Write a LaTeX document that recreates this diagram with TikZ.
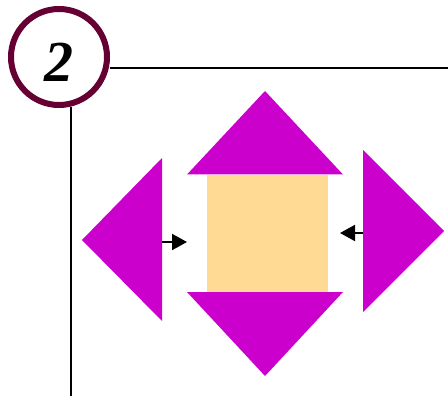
\documentclass[tikz,border=0pt]{standalone}
\usepackage{fontspec}
\newfontfamily\numfont{Liberation Serif}
\usetikzlibrary{arrows.meta}
\definecolor{mag}{HTML}{CC00CC}
\definecolor{sq}{HTML}{FFDA94}
\definecolor{maroon}{HTML}{660033}
\begin{document}
\begin{tikzpicture}[x=1pt,y=-1pt,
  tri/.style={fill=mag},
  frame/.style={line width=2.4pt,black},
  push/.style={line width=2pt,-{Triangle[length=15pt,width=16pt]}}]
\useasboundingbox (0,0) rectangle (448,396);
% frame lines
\draw[frame] (110,68) -- (448,68);
\draw[frame] (71,107) -- (71,396);
% badge
\node[circle,draw=maroon,line width=6pt,fill=white,minimum size=96pt,inner sep=0pt] (badge) at (59,57) {};
\node at ([yshift=-5pt]badge.center) {\numfont\fontsize{58}{58}\selectfont\bfseries\itshape 2};
% square
\fill[sq] (207,175) rectangle (328,292);
\coordinate (sqL) at (187,242);
\coordinate (sqR) at (340,233);
% triangles
\fill[tri] (187,174.5) -- (265,91) -- (343,174.5) -- cycle;
\fill[tri] (187,292) -- (265,376) -- (343,292) -- cycle;
\fill[tri] (162,158) -- (82,240) -- (162,321) -- cycle;
\fill[tri] (363,150) -- (444,231) -- (363,312) -- cycle;
\coordinate (leftT) at (162,242);
\coordinate (rightT) at (363,233);
% arrows
\draw[push] (leftT) -- (sqL);
\draw[push] (rightT) -- (sqR);
\end{tikzpicture}
\end{document}
